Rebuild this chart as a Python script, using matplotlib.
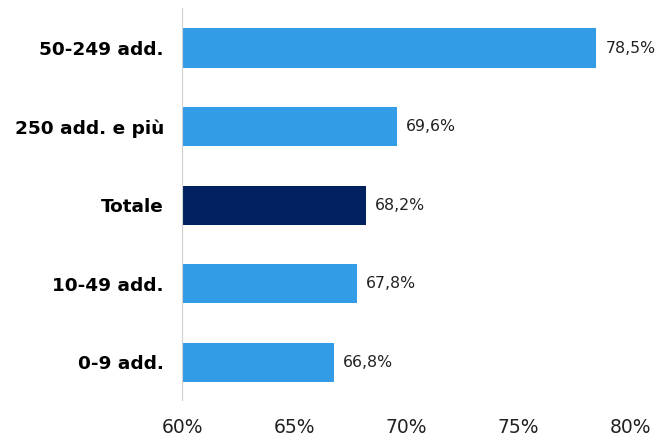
import matplotlib.pyplot as plt

categories = ['0-9 add.', '10-49 add.', 'Totale', '250 add. e più', '50-249 add.']
values = [66.8, 67.8, 68.2, 69.6, 78.5]
colors = ['#339ce6', '#339ce6', '#00205f', '#339ce6', '#339ce6']
ticks = [60, 65, 70, 75, 80]

fig = plt.figure(figsize=(6.66, 4.37), dpi=100)
ax = fig.add_axes([0.2733, 0.0847, 0.6727, 0.897])

y = range(len(categories))
ax.barh(y, [v - 60 for v in values], left=60, height=0.5, color=colors)

for i, v in enumerate(values):
    ax.text(v + 0.4, i, f'{v:.1f}%'.replace('.', ','), va='center', ha='left',
            fontsize=11.3, family='DejaVu Sans', color='#222222')

ax.set_xlim(60, 80)
ax.set_ylim(-0.48, 4.51)
ax.set_yticks(list(y))
ax.set_yticklabels(categories, fontsize=13.3, fontweight='bold', family='DejaVu Sans')
ax.set_xticks(ticks)
ax.set_xticklabels([f'{t}%' for t in ticks], fontsize=13.5, family='DejaVu Sans', color='#222222')
ax.tick_params(length=0)
ax.tick_params(axis='y', pad=13)
ax.tick_params(axis='x', pad=13)

for s in ['top', 'right', 'bottom']:
    ax.spines[s].set_visible(False)
ax.spines['left'].set_color('#d0d0d0')

fig.savefig('out.png', dpi=100)
